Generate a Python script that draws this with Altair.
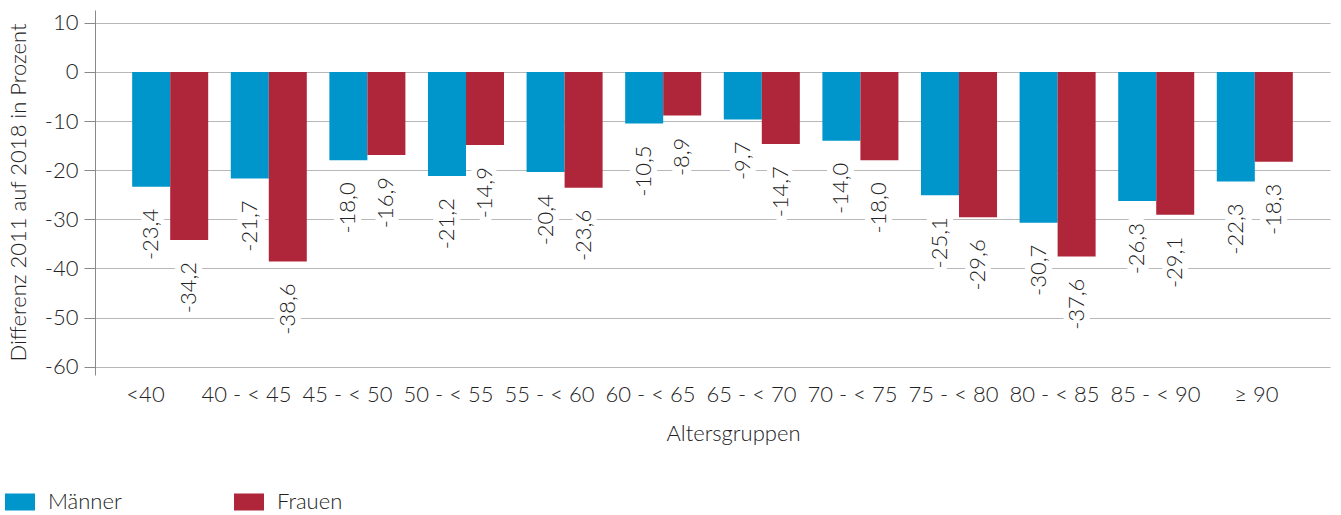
import altair as alt
import pandas as pd

groups = ["<40", "40 - < 45", "45 - < 50", "50 - < 55", "55 - < 60", "60 - < 65",
          "65 - < 70", "70 - < 75", "75 - < 80", "80 - < 85", "85 - < 90", "≥ 90"]
maenner = [-23.4, -21.7, -18.0, -21.2, -20.4, -10.5, -9.7, -14.0, -25.1, -30.7, -26.3, -22.3]
frauen = [-34.2, -38.6, -16.9, -14.9, -23.6, -8.9, -14.7, -18.0, -29.6, -37.6, -29.1, -18.3]
sexes = ["Männer", "Frauen"]
colors = ["#0095CB", "#AF263B"]

rows = []
for g, m, f in zip(groups, maenner, frauen):
    rows.append({"group": g, "sex": "Männer", "value": m})
    rows.append({"group": g, "sex": "Frauen", "value": f})
df = pd.DataFrame(rows)
df["label"] = df["value"].map(lambda v: f"{v:.1f}".replace(".", ","))

FONT = "Lato"
FW = 300
TXT = "#222222"

xscale = alt.Scale(paddingInner=0.229, paddingOuter=0.377)
yscale = alt.Scale(domain=[-61.7, 12.6], nice=False)
x_enc = alt.X("group:N", sort=groups, scale=xscale, axis=None)
xo_enc = alt.XOffset("sex:N", sort=sexes, scale=alt.Scale(paddingInner=0, paddingOuter=0))

bars = alt.Chart(df).mark_bar().encode(
    x=x_enc,
    xOffset=xo_enc,
    y=alt.Y("value:Q", scale=yscale, stack=None,
            axis=alt.Axis(values=list(range(-60, 11, 10)),
                          labelExpr="toString(datum.value)",
                          title="Differenz  2011 auf 2018 in Prozent",
                          titleX=-87, titleY=182, titleBaseline="top", titleAlign="center",
                          titleFontSize=22, titleFont=FONT, titleFontWeight=FW, titleColor=TXT,
                          labelFontSize=22, labelFont=FONT, labelFontWeight=FW,
                          labelColor=TXT, labelPadding=6,
                          tickSize=11, tickColor="#8a8a8a", domainColor="#8a8a8a",
                          gridColor="#b8b8b8", gridWidth=1)),
    color=alt.Color("sex:N", sort=sexes,
                    scale=alt.Scale(domain=sexes, range=colors),
                    legend=alt.Legend(title=None, orient="none", legendX=-90, legendY=477,
                                      direction="horizontal",
                                      symbolType="M-1,-0.567L1,-0.567L1,0.567L-1,0.567Z",
                                      symbolSize=900, symbolStrokeWidth=0,
                                      labelFontSize=22, labelFont=FONT, labelFontWeight=FW,
                                      labelColor=TXT, labelOffset=13, columnPadding=112)),
)

text_common = dict(angle=270, align="right", baseline="middle", dx=-22,
                   font=FONT, fontSize=22, fontWeight=FW)

halo = alt.Chart(df).mark_text(color="white", stroke="white", strokeWidth=12,
                               strokeJoin="round", **text_common).encode(
    x=x_enc, xOffset=xo_enc, y=alt.Y("value:Q", scale=yscale), text="label:N")

labels = alt.Chart(df).mark_text(color=TXT, **text_common).encode(
    x=x_enc, xOffset=xo_enc, y=alt.Y("value:Q", scale=yscale), text="label:N")

axis_df = pd.DataFrame({"group": groups})
axis_layer = alt.Chart(axis_df).mark_point(opacity=0).encode(
    x=alt.X("group:N", sort=groups,
            scale=alt.Scale(type="band", paddingInner=0, paddingOuter=0.114, align=0),
            axis=alt.Axis(orient="bottom", title="Altersgruppen", labelAngle=0,
                          domain=False, ticks=False, grid=False,
                          labelFontSize=22, labelFont=FONT, labelFontWeight=FW,
                          labelColor=TXT, labelPadding=9,
                          titleFontSize=22, titleFont=FONT, titleFontWeight=FW,
                          titleColor=TXT, titlePadding=18, titleX=638)),
)

chart = alt.layer(alt.layer(bars, halo, labels), axis_layer).resolve_scale(
    x="independent"
).properties(
    width=1235, height=365,
    padding={"left": 95, "top": 10, "right": 11, "bottom": 140},
    autosize=alt.AutoSizeParams(type="none"),
).configure_view(stroke=None)

chart.save("out.html", embed_options={"renderer": "svg", "actions": False})
